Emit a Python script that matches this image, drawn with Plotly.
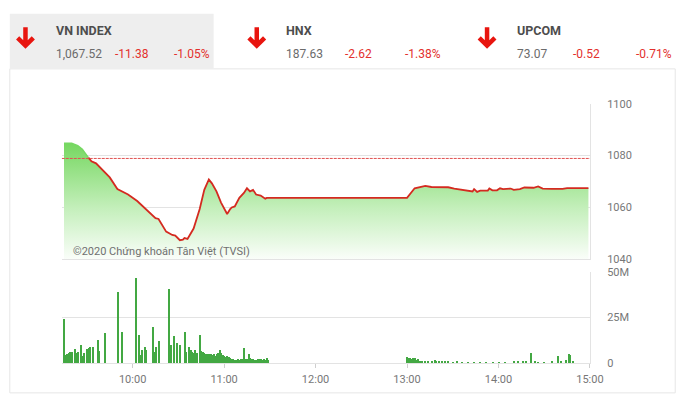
import plotly.graph_objects as go

DAY = "2020-01-01 "
W, H = 700, 396

# ---------------- data ----------------
ref_price = 1078.90

price_times = ["09:15", "09:20", "09:24", "09:27", "09:31", "09:33", "09:36", "09:40", "09:45",
               "09:50", "09:57", "10:03", "10:10", "10:15", "10:17", "10:22", "10:26", "10:28",
               "10:31", "10:33", "10:34", "10:36", "10:40", "10:44", "10:47", "10:50", "10:52",
               "10:55", "10:58", "11:02", "11:04", "11:05", "11:07", "11:10", "11:13", "11:15",
               "11:17", "11:19", "11:21", "11:24", "11:27", "11:28", "11:30",
               "13:00", "13:05", "13:12", "13:16", "13:27", "13:31", "13:40", "13:43", "13:44",
               "13:46", "13:48", "13:53", "13:54", "13:56", "13:59", "14:01", "14:03", "14:08",
               "14:10", "14:14", "14:17", "14:23", "14:26", "14:29", "14:35", "14:42", "14:45",
               "14:59"]
price_values = [1084.8, 1084.8, 1083.8, 1082.4, 1079.2, 1077.8, 1077.0, 1074.5, 1071.6,
                1067.1, 1065.0, 1062.5, 1058.7, 1055.9, 1055.6, 1050.7, 1049.4, 1049.2,
                1047.4, 1047.6, 1048.2, 1047.9, 1051.9, 1059.4, 1066.8, 1070.8, 1069.3,
                1066.2, 1061.9, 1057.5, 1059.4, 1060.0, 1060.4, 1063.7, 1065.6, 1067.4,
                1066.2, 1066.8, 1065.0, 1064.6, 1063.4, 1063.7, 1063.7,
                1063.7, 1067.4, 1068.3, 1067.9, 1067.8, 1067.3, 1066.5, 1066.2, 1067.1,
                1066.0, 1066.5, 1066.5, 1067.3, 1066.6, 1066.6, 1067.4, 1067.1, 1067.3,
                1066.8, 1067.1, 1067.7, 1067.6, 1068.1, 1067.3, 1067.2, 1067.2, 1067.5,
                1067.5]

vol_times = ["09:15", "09:16", "09:17", "09:18", "09:19", "09:20", "09:22", "09:23", "09:24",
             "09:26", "09:27", "09:28", "09:30", "09:31", "09:32", "09:34", "09:37", "09:38",
             "09:42", "09:50", "09:53", "10:02", "10:04", "10:05", "10:06", "10:08", "10:09",
             "10:13", "10:14", "10:15", "10:17", "10:24", "10:25", "10:27", "10:29", "10:31",
             "10:34", "10:35", "10:37", "10:38", "10:39", "10:40", "10:41", "10:42", "10:44",
             "10:45", "10:46", "10:47", "10:48", "10:49", "10:50", "10:51", "10:52", "10:53",
             "10:54", "10:55", "10:56", "10:57", "10:58", "10:59", "11:00", "11:01", "11:02",
             "11:03", "11:04", "11:05", "11:06", "11:07", "11:08", "11:09", "11:10", "11:11",
             "11:12", "11:13", "11:14", "11:15", "11:16", "11:17", "11:18", "11:19", "11:20",
             "11:21", "11:22", "11:23", "11:24", "11:25", "11:26", "11:27", "11:28", "11:29",
             "13:00", "13:01", "13:02", "13:03", "13:04", "13:05", "13:06", "13:07", "13:08",
             "13:09", "13:10", "13:12", "13:14", "13:16", "13:18", "13:19", "13:21", "13:23",
             "13:25", "13:27", "13:30", "13:33", "13:36", "13:40", "13:44", "13:48", "13:52",
             "13:56", "14:00", "14:04", "14:10", "14:13", "14:16", "14:18", "14:21", "14:24",
             "14:26", "14:30", "14:35", "14:39", "14:41", "14:44", "14:46", "14:47", "14:49"]
vol_values = [23.9, 4.3, 4.8, 5.5, 6.0, 5.9, 7.4, 5.3, 6.0,
              10.1, 3.9, 5.7, 7.4, 8.3, 9.0, 8.7, 12.8, 6.6,
              16.5, 39.0, 16.8, 46.5, 15.2, 4.4, 7.1, 9.0, 6.9,
              19.7, 6.2, 8.7, 11.9, 40.6, 9.6, 14.7, 11.0, 9.8,
              16.8, 6.0, 9.0, 6.9, 6.2, 5.7, 7.3, 5.3, 15.4,
              6.4, 6.0, 5.7, 5.1, 4.8, 5.1, 5.0, 4.4, 4.8,
              3.7, 4.8, 5.7, 7.1, 5.3, 4.3, 3.9, 3.5, 3.9,
              3.0, 2.5, 2.3, 2.0, 1.6, 1.6, 2.0, 1.8, 2.3,
              2.1, 8.2, 2.0, 2.3, 4.8, 2.5, 2.1, 2.0, 1.8,
              1.6, 2.0, 2.1, 2.3, 1.6, 2.0, 1.6, 2.8, 1.6,
              3.2, 2.5, 2.9, 2.2, 2.7, 2.5, 1.6, 2.0, 1.2,
              1.0, 0.8, 0.8, 0.7, 0.9, 1.4, 0.7, 0.8, 0.6,
              0.7, 0.9, 0.5, 0.6, 0.5, 0.5, 0.4, 0.5, 0.4,
              0.4, 0.3, 0.5, 1.0, 0.6, 1.2, 0.7, 5.6, 0.6,
              0.5, 0.5, 0.6, 3.6, 0.7, 1.6, 4.8, 4.6, 0.9]

price_ticks = [1040, 1060, 1080, 1100]
vol_ticks = [0, 25, 50]
vol_tick_labels = ["0", "25M", "50M"]
time_ticks = ["10:00", "11:00", "12:00", "13:00", "14:00", "15:00"]

indices = [
    # name, last, change, pct
    ("VN INDEX", "1,067.52", "-11.38", "-1.05%"),
    ("HNX", "187.63", "-2.62", "-1.38%"),
    ("UPCOM", "73.07", "-0.52", "-0.71%"),
]

# ---------------- helpers ----------------
def px_x(x):
    return x / W

def px_y(y):
    return 1 - y / H

FONT = "Roboto"
RED = "#e3302d"
LINE_RED = "#d42a20"
GRID = "#e3e3e3"
TICK = "#777777"

pt = [DAY + t for t in price_times]
vt = [DAY + t for t in vol_times]
base = [price_ticks[0]] * len(pt)

# split where the line goes below reference
k = next(i for i, v in enumerate(price_values) if v <= ref_price + 0.5)

fig = go.Figure()

# baseline for gradient fill
fig.add_trace(go.Scatter(x=pt, y=base, mode="lines", line=dict(width=0),
                         hoverinfo="skip", showlegend=False, xaxis="x", yaxis="y"))
fig.add_trace(go.Scatter(
    x=pt, y=price_values, mode="lines", line=dict(width=0), fill="tonexty",
    fillgradient=dict(type="vertical", start=price_ticks[0], stop=1086,
                      colorscale=[[0, "rgba(255,255,255,1)"], [0.45, "#c4efbb"], [1, "#72d65c"]]),
    showlegend=False, xaxis="x", yaxis="y"))
# green part above ref
fig.add_trace(go.Scatter(x=pt[:k + 1], y=price_values[:k + 1], mode="lines",
                         line=dict(color="#76d863", width=1.5), showlegend=False,
                         xaxis="x", yaxis="y"))
# red part
fig.add_trace(go.Scatter(x=pt[k:], y=price_values[k:], mode="lines",
                         line=dict(color=LINE_RED, width=1.8), showlegend=False,
                         xaxis="x", yaxis="y"))
# reference dashed line
fig.add_trace(go.Scatter(x=[DAY + "09:13:30", DAY + "15:00"], y=[ref_price, ref_price],
                         mode="lines", line=dict(color="#e05050", width=1, dash="3px,1px"),
                         showlegend=False, xaxis="x", yaxis="y"))

# volume bars
fig.add_trace(go.Bar(x=vt, y=vol_values, marker=dict(color="#43a843", line=dict(width=0)),
                     width=50000, showlegend=False, xaxis="x2", yaxis="y2"))

xrange = [DAY + "09:13:30", DAY + "15:00"]
x_dom = [px_x(63), px_x(602)]

fig.update_layout(
    width=W, height=H, margin=dict(l=0, r=0, t=0, b=0),
    paper_bgcolor="white", plot_bgcolor="white",
    font=dict(family=FONT, color=TICK, size=11),
    bargap=0,
    xaxis=dict(domain=x_dom, range=xrange, type="date", anchor="y",
               showticklabels=False, showgrid=False, showline=True,
               linecolor=GRID, linewidth=1, zeroline=False, fixedrange=True),
    yaxis=dict(domain=[px_y(262), px_y(101)], range=[price_ticks[0], price_ticks[-1]],
               side="right", tickvals=price_ticks, ticktext=[str(v) for v in price_ticks],
               showgrid=True, gridcolor=GRID, showline=True, linecolor=GRID,
               zeroline=False, ticklabelstandoff=14, tickfont=dict(size=11, color=TICK),
               anchor="x"),
    xaxis2=dict(domain=x_dom, range=xrange, type="date", anchor="y2",
                tickvals=[DAY + t for t in time_ticks], ticktext=time_ticks,
                ticks="outside", ticklen=4, tickcolor="#cfcfcf",
                showgrid=False, showline=True, linecolor=GRID, zeroline=False,
                tickfont=dict(size=11, color=TICK), ticklabelstandoff=2),
    yaxis2=dict(domain=[px_y(369), px_y(275)], range=[0, 50], side="right",
                tickvals=vol_ticks, ticktext=vol_tick_labels, showgrid=True,
                gridcolor=GRID, showline=True, linecolor=GRID, zeroline=False,
                ticklabelstandoff=14, tickfont=dict(size=11, color=TICK), anchor="x2"),
)

shapes = []
annotations = []
# container border
shapes.append(dict(type="rect", xref="paper", yref="paper",
                   x0=px_x(10), x1=px_x(689), y0=px_y(400), y1=px_y(65),
                   line=dict(color="#e6e6e6", width=1), fillcolor="rgba(0,0,0,0)", layer="below"))
# grey header box for first index
shapes.append(dict(type="rect", xref="paper", yref="paper",
                   x0=px_x(10), x1=px_x(218), y0=px_y(65), y1=px_y(8),
                   line=dict(width=0), fillcolor="#eeeeee", layer="below"))

arrow_x = [26, 262, 497]
label_x = [55, 290, 525]
chg_x = [115, 350, 583]
pct_x = [175, 411, 647]
for i, (name, last, chg, pct) in enumerate(indices):
    ax = arrow_x[i]
    path = (f"M {px_x(ax)},{px_y(22)} L {px_x(ax)},{px_y(41)} "
            f"M {px_x(ax - 8)},{px_y(33)} L {px_x(ax)},{px_y(41)} L {px_x(ax + 8)},{px_y(33)}")
    shapes.append(dict(type="path", xref="paper", yref="paper", path=path,
                       line=dict(color="#e8150f", width=4.5)))
    annotations.append(dict(text=f"<b>{name}</b>", x=px_x(label_x[i]), y=px_y(25),
                            xref="paper", yref="paper", xanchor="left", yanchor="middle",
                            showarrow=False, font=dict(size=12.5, color="#4d4d4d", family=FONT)))
    annotations.append(dict(text=last, x=px_x(label_x[i]), y=px_y(50),
                            xref="paper", yref="paper", xanchor="left", yanchor="middle",
                            showarrow=False, font=dict(size=12, color="#6b6b6b", family=FONT)))
    annotations.append(dict(text=chg, x=px_x(chg_x[i]), y=px_y(50),
                            xref="paper", yref="paper", xanchor="left", yanchor="middle",
                            showarrow=False, font=dict(size=12, color=RED, family=FONT)))
    annotations.append(dict(text=pct, x=px_x(pct_x[i]), y=px_y(50),
                            xref="paper", yref="paper", xanchor="left", yanchor="middle",
                            showarrow=False, font=dict(size=12, color=RED, family=FONT)))

annotations.append(dict(text="©2020 Chứng khoán Tân Việt (TVSI)", x=px_x(72), y=px_y(254),
                        xref="paper", yref="paper", xanchor="left", yanchor="middle",
                        showarrow=False, font=dict(size=11, color="#707070", family=FONT)))

fig.update_layout(shapes=shapes, annotations=annotations)
fig.write_html("out.html",
               post_script="document.body.style.margin='0';document.body.style.overflow='hidden';")
